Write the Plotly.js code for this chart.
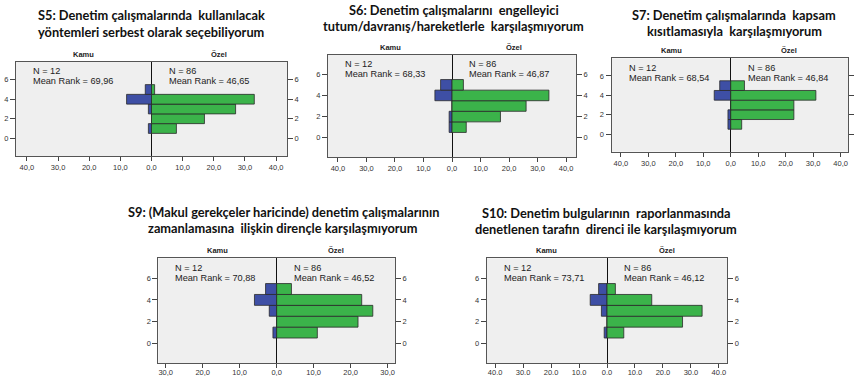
<!DOCTYPE html>
<html>
<head>
<meta charset="utf-8">
<script src="https://cdn.plot.ly/plotly-3.0.1.min.js"></script>
<style>html,body{margin:0;padding:0;background:#fff;}#chart{width:855px;height:377px;}</style>
</head>
<body>
<div id="chart"></div>
<script>
// ---------------- DATA ----------------
const bins = [1, 2, 3, 4, 5];
const groupNames = ["Kamu", "Özel"];

const s5Kamu = [1, 0, 1, 8, 2];
const s5Ozel = [8, 17, 27, 33, 1];
const s6Kamu = [1, 1, 0, 6, 4];
const s6Ozel = [5, 17, 26, 34, 4];
const s7Kamu = [1, 1, 0, 6, 4];
const s7Ozel = [4, 23, 23, 31, 5];
const s9Kamu = [1, 0, 2, 6, 3];
const s9Ozel = [11, 22, 26, 23, 4];
const s10Kamu = [1, 0, 2, 6, 3];
const s10Ozel = [6, 27, 34, 16, 3];

const nKamu = 12, nOzel = 86;
const meanRankKamu = ["69,96", "68,33", "68,54", "70,88", "73,71"];
const meanRankOzel = ["46,65", "46,87", "46,84", "46,52", "46,12"];

const titles = [
  ["S5: Denetim çalışmalarında  kullanılacak", "yöntemleri serbest olarak seçebiliyorum"],
  ["S6: Denetim çalışmalarını  engelleyici", "tutum/davranış/hareketlerle  karşılaşmıyorum"],
  ["S7: Denetim çalışmalarında  kapsam", "kısıtlamasıyla  karşılaşmıyorum"],
  ["S9: (Makul gerekçeler haricinde) denetim çalışmalarının", "zamanlamasına  ilişkin dirençle karşılaşmıyorum"],
  ["S10: Denetim bulgularının  raporlanmasında", "denetlenen tarafın  direnci ile karşılaşmıyorum"]
];

const xTickVals40 = [-40, -30, -20, -10, 0, 10, 20, 30, 40];
const xTickText40c = ["40,0", "30,0", "20,0", "10,0", "0,0", "10,0", "20,0", "30,0", "40,0"];
const xTickText40d = ["40.0", "30.0", "20.0", "10.0", "0.0", "10.0", "20.0", "30.0", "40.0"];
const xTickVals30 = [-30, -20, -10, 0, 10, 20, 30];
const xTickText30c = ["30,0", "20,0", "10,0", "0,0", "10,0", "20,0", "30,0"];
const yTickVals = [0, 2, 4, 6];

const kamuSeries = [s5Kamu, s6Kamu, s7Kamu, s9Kamu, s10Kamu];
const ozelSeries = [s5Ozel, s6Ozel, s7Ozel, s9Ozel, s10Ozel];

// ---------------- LAYOUT (pixels) ----------------
const W = 855, H = 377;
const panels = [
  {box: [16, 287, 62, 156],      xr: [-43.5, 43.5], tv: xTickVals40, tt: xTickText40c, t1: 15, t2: 32, tx: 151, sd: 0},
  {box: [328, 576, 55, 157],     xr: [-43.5, 43.5], tv: xTickVals40, tt: xTickText40c, t1: 10, t2: 26, tx: 454, sd: 0},
  {box: [611.5, 848, 58.3, 151.7], xr: [-43.4, 42.7], tv: xTickVals40, tt: xTickText40c, t1: 15, t2: 31, tx: 734, sd: 0},
  {box: [158.3, 395, 258.3, 363.3], xr: [-32, 32],  tv: xTickVals30, tt: xTickText30c, t1: 212, t2: 228, tx: 283, sd: -2},
  {box: [486.7, 727.3, 258.3, 363.3], xr: [-43, 43], tv: xTickVals40, tt: xTickText40d, t1: 213, t2: 229, tx: 606, sd: -2}
];
const yRange = [-1.82, 7.82];

const blue = "#3e4fa5";
const green = "#3bb34a";
const edge = "#2a2a2a";
const tickFont = {family: "Liberation Sans, Arial, sans-serif", size: 7.5, color: "#333"};
const smallFont = {family: "Liberation Sans, Arial, sans-serif", size: 9.2, color: "#222"};
const titleFont = {family: "Lato, Open Sans, sans-serif", size: 12.8, color: "#111"};

function id(letter, n) { return n === 1 ? letter : letter + n; }
function key(letter, n) { return letter + "axis" + (n === 1 ? "" : n); }
const px = v => v / W;
const py = v => 1 - v / H;

const traces = [];
const layout = {
  width: W, height: H,
  margin: {l: 0, r: 0, t: 0, b: 0},
  paper_bgcolor: "#ffffff",
  plot_bgcolor: "#efefef",
  showlegend: false,
  barmode: "overlay",
  annotations: []
};

panels.forEach((p, i) => {
  const xn = i + 1, yl = 2 * i + 1, yr = 2 * i + 2;
  const [x0, x1, y0, y1] = p.box;
  const xc = x0 + (x1 - x0) * (0 - p.xr[0]) / (p.xr[1] - p.xr[0]);

  traces.push({
    type: "bar", orientation: "h", y: bins, x: kamuSeries[i].map(v => -v),
    width: 1, xaxis: id("x", xn), yaxis: id("y", yl),
    marker: {color: blue, line: {color: edge, width: 0.8}}, hoverinfo: "skip"
  });
  traces.push({
    type: "bar", orientation: "h", y: bins, x: ozelSeries[i],
    width: 1, xaxis: id("x", xn), yaxis: id("y", yl),
    marker: {color: green, line: {color: edge, width: 0.8}}, hoverinfo: "skip"
  });
  // empty trace so the right-hand mirrored y axis is drawn
  traces.push({
    type: "scatter", mode: "markers", x: [], y: [],
    xaxis: id("x", xn), yaxis: id("y", yr), hoverinfo: "skip"
  });

  layout[key("x", xn)] = {
    domain: [px(x0), px(x1)], anchor: id("y", yl), range: p.xr,
    tickvals: p.tv, ticktext: p.tt, tickfont: tickFont,
    ticks: "outside", ticklen: 4, tickcolor: "#444", tickwidth: 1,
    ticklabelstandoff: p.sd,
    showline: true, linecolor: "#555", linewidth: 1, mirror: true,
    showgrid: false, zeroline: true, zerolinecolor: "#111", zerolinewidth: 1,
    fixedrange: true
  };
  layout[key("y", yl)] = {
    domain: [py(y1), py(y0)], anchor: id("x", xn), range: yRange,
    tickvals: yTickVals, tickfont: tickFont,
    ticks: "outside", ticklen: 5, tickcolor: "#444", tickwidth: 1,
    showline: true, linecolor: "#555", linewidth: 1, mirror: true,
    showgrid: false, zeroline: false, fixedrange: true
  };
  layout[key("y", yr)] = {
    overlaying: id("y", yl), side: "right", anchor: id("x", xn), range: yRange,
    tickvals: yTickVals, tickfont: tickFont,
    ticks: "outside", ticklen: 5, tickcolor: "#444", tickwidth: 1,
    showline: false, showgrid: false, zeroline: false, fixedrange: true
  };

  const A = layout.annotations;
  A.push({xref: "paper", yref: "paper", x: px(p.tx), y: py(p.t1), xanchor: "center", yanchor: "middle",
    text: "<b>" + titles[i][0] + "</b>", showarrow: false, font: titleFont});
  A.push({xref: "paper", yref: "paper", x: px(p.tx), y: py(p.t2), xanchor: "center", yanchor: "middle",
    text: "<b>" + titles[i][1] + "</b>", showarrow: false, font: titleFont});
  A.push({xref: "paper", yref: "paper", x: px((x0 + xc) / 2), y: py(y0 - 8), xanchor: "center", yanchor: "middle",
    text: "<b>" + groupNames[0] + "</b>", showarrow: false, font: {family: "Liberation Sans, Arial, sans-serif", size: 7.5, color: "#222"}});
  A.push({xref: "paper", yref: "paper", x: px((xc + x1) / 2), y: py(y0 - 8), xanchor: "center", yanchor: "middle",
    text: "<b>" + groupNames[1] + "</b>", showarrow: false, font: {family: "Liberation Sans, Arial, sans-serif", size: 7.5, color: "#222"}});
  const ly1 = y0 + 9.3, ly2 = y0 + 19.3;
  A.push({xref: "paper", yref: "paper", x: px(x0 + 15), y: py(ly1), xanchor: "left", yanchor: "middle",
    text: "N = " + nKamu, showarrow: false, font: smallFont});
  A.push({xref: "paper", yref: "paper", x: px(x0 + 15), y: py(ly2), xanchor: "left", yanchor: "middle",
    text: "Mean Rank = " + meanRankKamu[i], showarrow: false, font: smallFont});
  A.push({xref: "paper", yref: "paper", x: px(xc + 15), y: py(ly1), xanchor: "left", yanchor: "middle",
    text: "N = " + nOzel, showarrow: false, font: smallFont});
  A.push({xref: "paper", yref: "paper", x: px(xc + 15), y: py(ly2), xanchor: "left", yanchor: "middle",
    text: "Mean Rank = " + meanRankOzel[i], showarrow: false, font: smallFont});
});

Plotly.newPlot("chart", traces, layout, {staticPlot: true, displayModeBar: false});
</script>
</body>
</html>
